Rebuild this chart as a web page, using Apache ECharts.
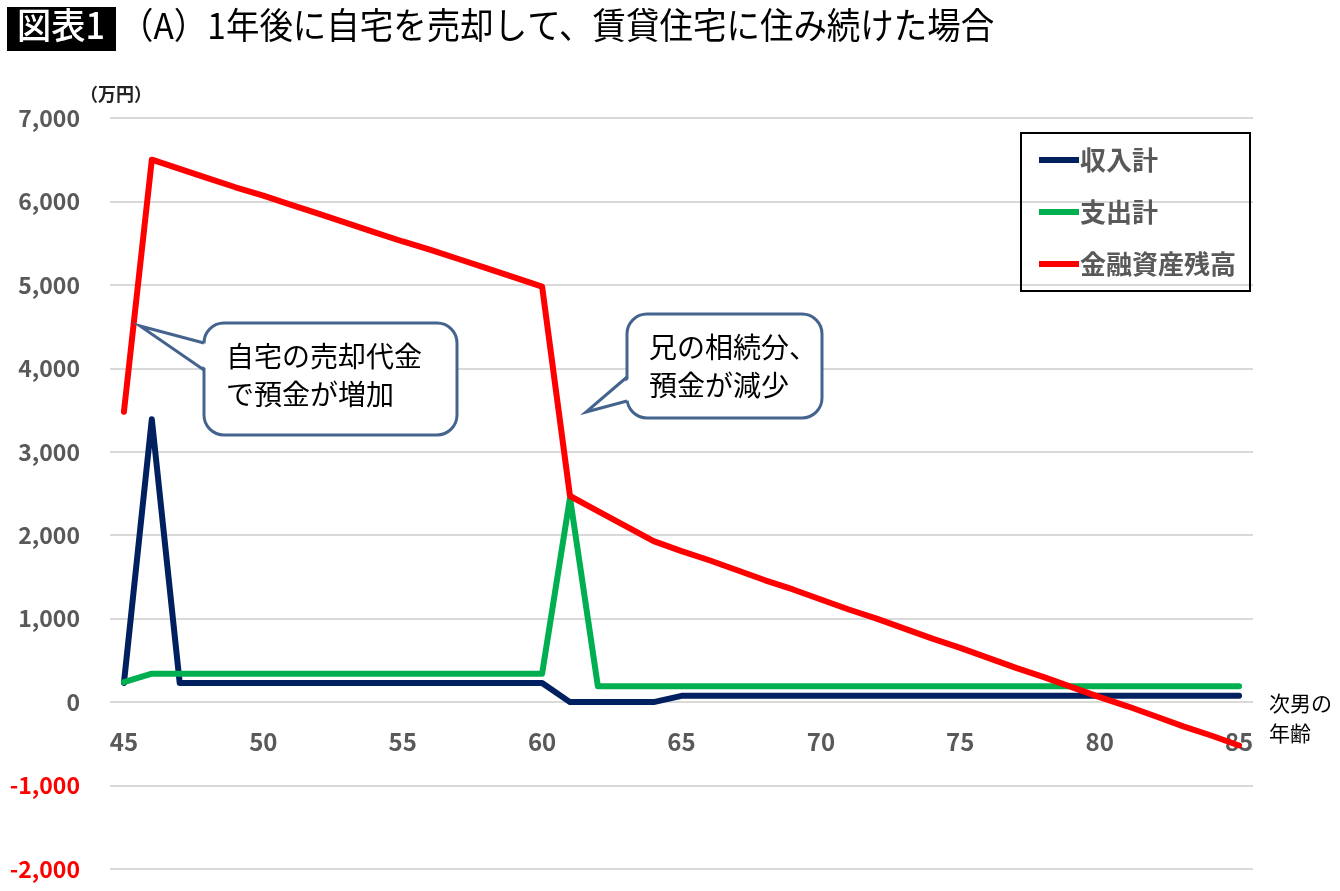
<!DOCTYPE html>
<html>
<head>
<meta charset="utf-8">
<script src="https://cdn.jsdelivr.net/npm/echarts@6/dist/echarts.min.js"></script>
<style>
    html, body { margin: 0; padding: 0; background: #fff; }
    #chart { width: 1340px; height: 891px; }
</style>
</head>
<body>
<div id="chart"></div>
<script>
// 次男の年齢
const ages = ['45', '46', '47', '48', '49', '50', '51', '52', '53', '54',
    '55', '56', '57', '58', '59', '60', '61', '62', '63', '64',
    '65', '66', '67', '68', '69', '70', '71', '72', '73', '74',
    '75', '76', '77', '78', '79', '80', '81', '82', '83', '84', '85'];

// 収入計（万円）
const income = [230, 3390, 230, 230, 230, 230, 230, 230, 230, 230,
    230, 230, 230, 230, 230, 230, 0, 0, 0, 0,
    75, 75, 75, 75, 75, 75, 75, 75, 75, 75,
    75, 75, 75, 75, 75, 75, 75, 75, 75, 75, 75];

// 支出計（万円）
const expense = [240, 340, 340, 340, 340, 340, 340, 340, 340, 340,
    340, 340, 340, 340, 340, 340, 2450, 190, 190, 190,
    190, 190, 190, 190, 190, 190, 190, 190, 190, 190,
    190, 190, 190, 190, 190, 190, 190, 190, 190, 190, 190];

// 金融資産残高（万円）
const balance = [3480, 6500, 6390, 6280, 6170, 6070, 5960, 5850, 5740, 5630,
    5520, 5420, 5310, 5200, 5090, 4980, 2470, 2290, 2110, 1930,
    1810, 1700, 1580, 1460, 1350, 1230, 1110, 1000, 880, 760,
    650, 530, 410, 300, 180, 60, -50, -170, -290, -400, -520];

const seriesNames = ['収入計', '支出計', '金融資産残高'];
const seriesColors = ['#002060', '#00b050', '#ff0000'];

const yMin = -2000;
const yMax = 7000;

const font = '"Noto Sans CJK JP", "Noto Sans", sans-serif';
const gray = '#595959';
const calloutColor = '#44648e';

const gridTop = 118;
const gridBottom = 22;
const chartHeight = 891;
// x軸ラベルを0の位置に置くためのずらし量
const xOffset = -(chartHeight - gridTop - gridBottom) * (0 - yMin) / (yMax - yMin);

// 吹き出し（角丸の枠＋左側の尖り）
function bubble(l, t, r, b, tipX, tipY, j1, j2, text) {
    return [
        {
            type: 'rect',
            z: 10,
            shape: { x: l, y: t, width: r - l, height: b - t, r: 20 },
            style: { fill: '#fff', stroke: calloutColor, lineWidth: 3 }
        },
        {
            type: 'polygon',
            z: 11,
            shape: { points: [[l + 3, j1 + 1], [tipX, tipY], [l + 3, j2 - 1]] },
            style: { fill: '#fff' }
        },
        {
            type: 'polyline',
            z: 12,
            shape: { points: [[l, j1], [tipX, tipY], [l, j2]] },
            style: { stroke: calloutColor, lineWidth: 3, fill: null }
        },
        {
            type: 'text',
            z: 13,
            x: l + 22,
            y: t + 14,
            style: {
                text: text,
                font: '28px ' + font,
                lineHeight: 38,
                fill: '#000'
            }
        }
    ];
}

const chart = echarts.init(document.getElementById('chart'));

const option = {
    backgroundColor: '#fff',
    animation: false,
    textStyle: { fontFamily: font },
    grid: {
        left: 110,
        right: 87,
        top: gridTop,
        bottom: gridBottom,
        containLabel: false,
        outerBoundsMode: 'none'
    },
    legend: {
        data: seriesNames,
        orient: 'vertical',
        left: 1021,
        top: 133,
        padding: [14, 14, 14, 18],
        itemGap: 26,
        itemWidth: 40,
        itemHeight: 6,
        icon: 'rect',
        borderColor: '#000',
        borderWidth: 2,
        textStyle: {
            fontFamily: font,
            fontSize: 26,
            fontWeight: 'bold',
            color: gray,
            padding: [0, 0, 0, -4]
        }
    },
    xAxis: {
        type: 'category',
        data: ages,
        boundaryGap: true,
        position: 'bottom',
        offset: xOffset,
        axisLine: {
            show: false,
            onZero: false
        },
        axisTick: { show: false },
        axisLabel: {
            interval: 4,
            margin: 28,
            fontFamily: font,
            fontSize: 24,
            fontWeight: 'bold',
            color: gray
        },
        splitLine: { show: false }
    },
    yAxis: {
        type: 'value',
        min: yMin,
        max: yMax,
        interval: 1000,
        axisLine: { show: false },
        axisTick: { show: false },
        axisLabel: {
            margin: 30,
            fontFamily: font,
            fontSize: 23,
            fontWeight: 'bold',
            color: (v) => (v < 0 ? '#ff0000' : gray),
            formatter: (v) => v.toLocaleString('en-US')
        },
        splitLine: {
            lineStyle: { color: '#d9d9d9', width: 2 }
        }
    },
    series: [income, expense, balance].map((d, i) => ({
        name: seriesNames[i],
        type: 'line',
        data: d,
        symbol: 'none',
        z: 2 + i,
        lineStyle: { color: seriesColors[i], width: 6, cap: 'round', join: 'round' },
        itemStyle: { color: seriesColors[i] }
    })),
    graphic: [
        // タイトル
        {
            type: 'rect',
            shape: { x: 7, y: 7, width: 109, height: 44 },
            style: { fill: '#000' }
        },
        {
            type: 'text',
            x: 17,
            y: 7,
            scaleX: 0.95,
            style: {
                text: '図表1',
                font: '500 36px ' + font,
                fill: '#fff'
            }
        },
        {
            type: 'text',
            x: 120,
            y: 7,
            scaleX: 0.93,
            style: {
                text: '（A）1年後に自宅を売却して、賃貸住宅に住み続けた場合',
                font: '36px ' + font,
                fill: '#000'
            }
        },
        {
            type: 'text',
            x: 80,
            y: 85,
            style: {
                text: '（万円）',
                font: 'bold 18px ' + font,
                fill: '#222'
            }
        },
        {
            type: 'text',
            x: 1269,
            y: 688,
            style: {
                text: '次男の\n年齢',
                font: '21px ' + font,
                lineHeight: 30,
                fill: '#000'
            }
        }
    ].concat(
        bubble(204, 323, 457, 435, 140, 326, 343, 370, '自宅の売却代金\nで預金が増加'),
        bubble(627, 314, 822, 418, 586, 412, 377, 401, '兄の相続分、\n預金が減少')
    )
};

chart.setOption(option);
</script>
</body>
</html>
